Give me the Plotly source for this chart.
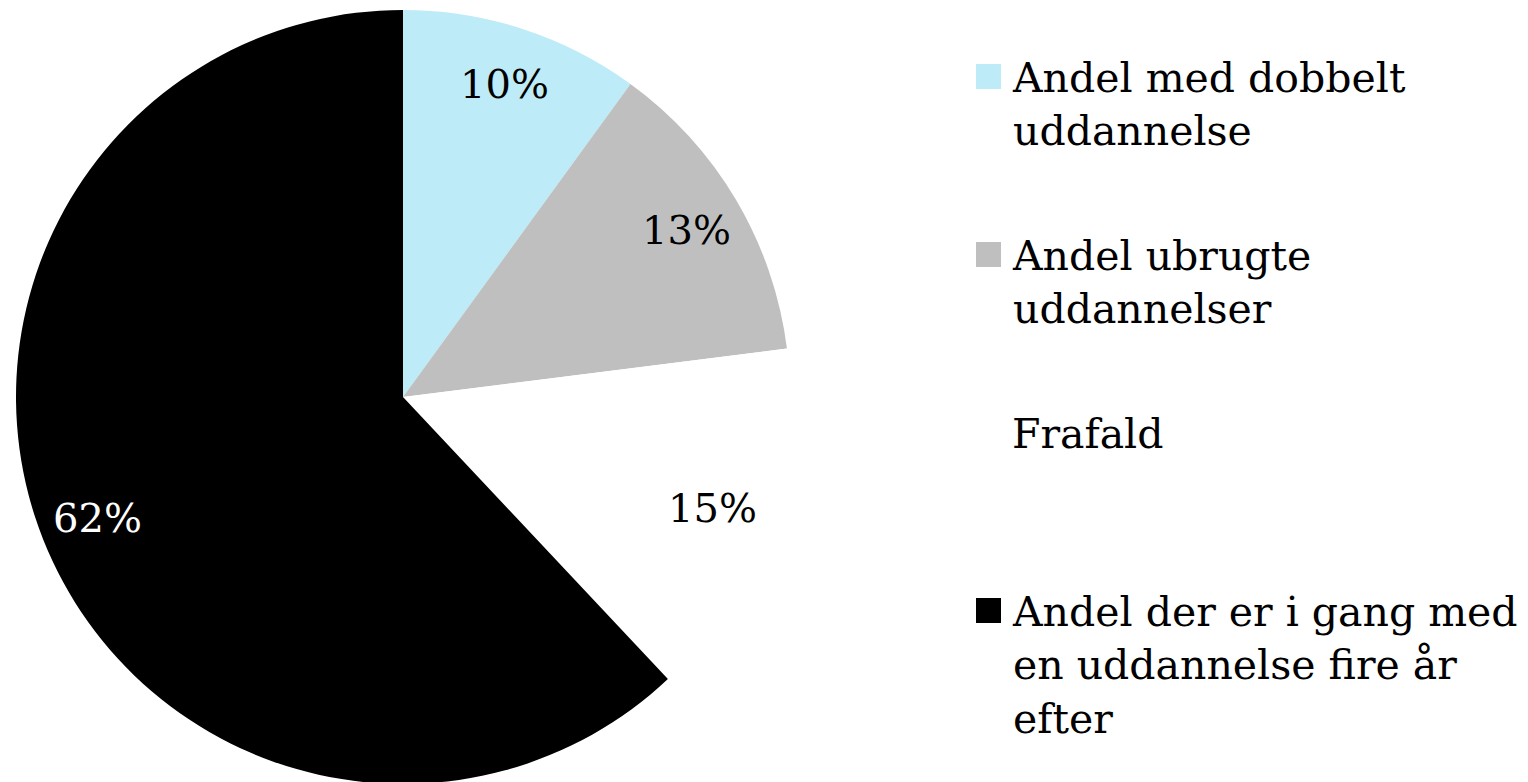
import math
import plotly.graph_objects as go

## data
labels = [
    "Andel med dobbelt<br>uddannelse",
    "Andel ubrugte<br>uddannelser",
    "Frafald",
    "Andel der er i gang med<br>en uddannelse fire år<br>efter",
]
values = [10, 13, 15, 62]

# colour set
colors = ["#BDEBF8", "#BFBFBF", "#FFFFFF", "#000000"]
label_colors = ["#000000", "#000000", "#000000", "#FFFFFF"]

serif = "DejaVu Serif"
W, H = 1528, 782
OFF = 8  # page body margin

# pie geometry (page pixels)
cx, cy, R = 403, 397, 387
label_r = 0.85


def px_x(x):
    return (x - OFF) / W


def px_y(y):
    return 1 - (y - OFF) / H


fig = go.Figure(
    go.Pie(
        labels=labels,
        values=values,
        sort=False,
        direction="clockwise",
        rotation=0,
        marker=dict(colors=colors, line=dict(width=0)),
        textinfo="none",
        showlegend=False,
        domain=dict(
            x=[px_x(cx - R), px_x(cx + R)],
            y=[px_y(cy + R), px_y(cy - R)],
        ),
        hoverinfo="label+percent",
    )
)

# percentage labels placed near the outer part of each slice
total = sum(values)
cum = 0
for v, c in zip(values, label_colors):
    mid = (cum + v / 2) / total * 2 * math.pi
    cum += v
    fig.add_annotation(
        text=f"{round(v / total * 100)}%",
        x=px_x(cx + label_r * R * math.sin(mid)),
        y=px_y(cy - label_r * R * math.cos(mid)),
        xref="paper",
        yref="paper",
        xanchor="center",
        yanchor="middle",
        showarrow=False,
        font=dict(family=serif, size=40, color=c),
    )

# legend (text + colour keys)
legend_base = [91, 269, 447, 625]
for lab, col, base in zip(labels, colors, legend_base):
    fig.add_annotation(
        text=lab,
        x=px_x(1010),
        y=px_y(base - 39),
        xref="paper",
        yref="paper",
        xanchor="left",
        yanchor="top",
        align="left",
        showarrow=False,
        font=dict(family=serif, size=41, color="#000000"),
    )
    fig.add_shape(
        type="rect",
        xref="paper",
        yref="paper",
        x0=px_x(976),
        x1=px_x(1001),
        y0=px_y(base - 2),
        y1=px_y(base - 27),
        fillcolor=col,
        line=dict(width=0),
    )

fig.update_layout(
    width=W,
    height=H,
    margin=dict(l=0, r=0, t=0, b=0),
    paper_bgcolor="#FFFFFF",
    plot_bgcolor="#FFFFFF",
    font=dict(family=serif, size=41, color="#000000"),
    showlegend=False,
)

fig.write_html("out.html")
